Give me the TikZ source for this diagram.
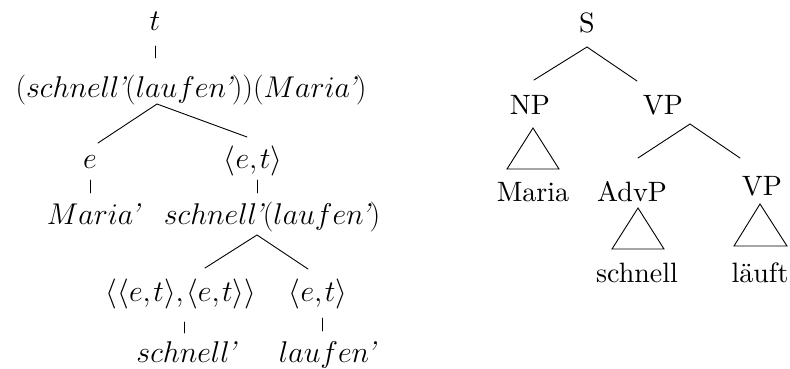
\RequirePackage{fix-cm}
\documentclass[tikz,border=0pt]{standalone}
\font\synfont="[lmroman10-regular]:mapping=tex-text" at 28pt
\newcommand\ap{\mkern-2mu\mbox{\itshape '}}
\newcommand\ty[2]{\langle #1{,}\mkern1.5mu#2\rangle}
\tikzset{
  sem/.style={anchor=base, inner sep=0pt, font=\fontsize{30}{36}\selectfont},
  syn/.style={anchor=base, inner sep=0pt, font=\synfont},
  edge/.style={line width=0.9pt, line cap=round},
  tri/.style={line width=0.9pt, line join=miter}
}
\begin{document}
\begin{tikzpicture}[x=1pt,y=-1pt]
\useasboundingbox (0,0) rectangle (790,369);
% ---------- left tree ----------
\node[sem] (t) at (155,31) {$t$};
\node[sem] (big) at (191,97) {$(schnell\ap(laufen\ap))(Maria\ap)$};
\node[sem] (e) at (90,168) {$e$};
\node[sem] (et1) at (253,168) {$\ty{e}{t}$};
\node[sem] (maria) at (93,224) {$Maria\ap$};
\node[sem] (sl) at (272,224) {$schnell\ap(laufen\ap)$};
\node[sem] (pair) at (181,301) {$\ty{\ty{e}{t}}{\ty{e}{t}}$};
\node[sem] (et2) at (318,301) {$\ty{e}{t}$};
\node[sem] (schn) at (186,362) {$schnell\ap$};
\node[sem] (lauf) at (327,362) {$laufen\ap$};

\coordinate (t-b) at (155,46);  \coordinate (big-t) at (155,58);
\coordinate (big-b) at (157,104);
\coordinate (e-t) at (98,143);  \coordinate (et1-t) at (247,137);
\coordinate (e-b) at (90,180);  \coordinate (maria-t) at (90,193);
\coordinate (et1-b) at (257,180); \coordinate (sl-t) at (257,193);
\coordinate (sl-b) at (257,235);
\coordinate (pair-t) at (205,268); \coordinate (et2-t) at (308,269);
\coordinate (pair-b) at (184,322); \coordinate (schn-t) at (184,333);
\coordinate (et2-b) at (322,318); \coordinate (lauf-t) at (322,331);

\draw[edge] (t-b) -- (big-t);
\draw[edge] (e-t) -- (big-b) -- (et1-t);
\draw[edge] (e-b) -- (maria-t);
\draw[edge] (et1-b) -- (sl-t);
\draw[edge] (pair-t) -- (sl-b) -- (et2-t);
\draw[edge] (pair-b) -- (schn-t);
\draw[edge] (et2-b) -- (lauf-t);

% ---------- right tree ----------
\node[syn] (S) at (587,33) {S};
\node[syn] (NP) at (530,114) {NP};
\node[syn] (VP) at (663,114) {VP};
\node[syn] (Maria) at (533,201) {Maria};
\node[syn] (AdvP) at (632,201) {AdvP};
\node[syn] (VP2) at (762,195) {VP};
\node[syn] (schnell) at (637,282) {schnell};
\node[syn] (laeuft) at (760,282) {läuft};

\coordinate (S-b) at (587,47);
\coordinate (NP-t) at (534,80); \coordinate (VP-t) at (637,81);
\coordinate (VP-b) at (690,124);
\coordinate (AdvP-t) at (638,158); \coordinate (VP2-t) at (740,158);

\draw[edge] (NP-t) -- (S-b) -- (VP-t);
\draw[edge] (AdvP-t) -- (VP-b) -- (VP2-t);

\draw[tri] (533,128) -- (507,169) -- (559,169) -- cycle;
\draw[tri] (638,208) -- (612,249) -- (664,249) -- cycle;
\draw[tri] (760,204) -- (734,246) -- (787,246) -- cycle;
\end{tikzpicture}
\end{document}
